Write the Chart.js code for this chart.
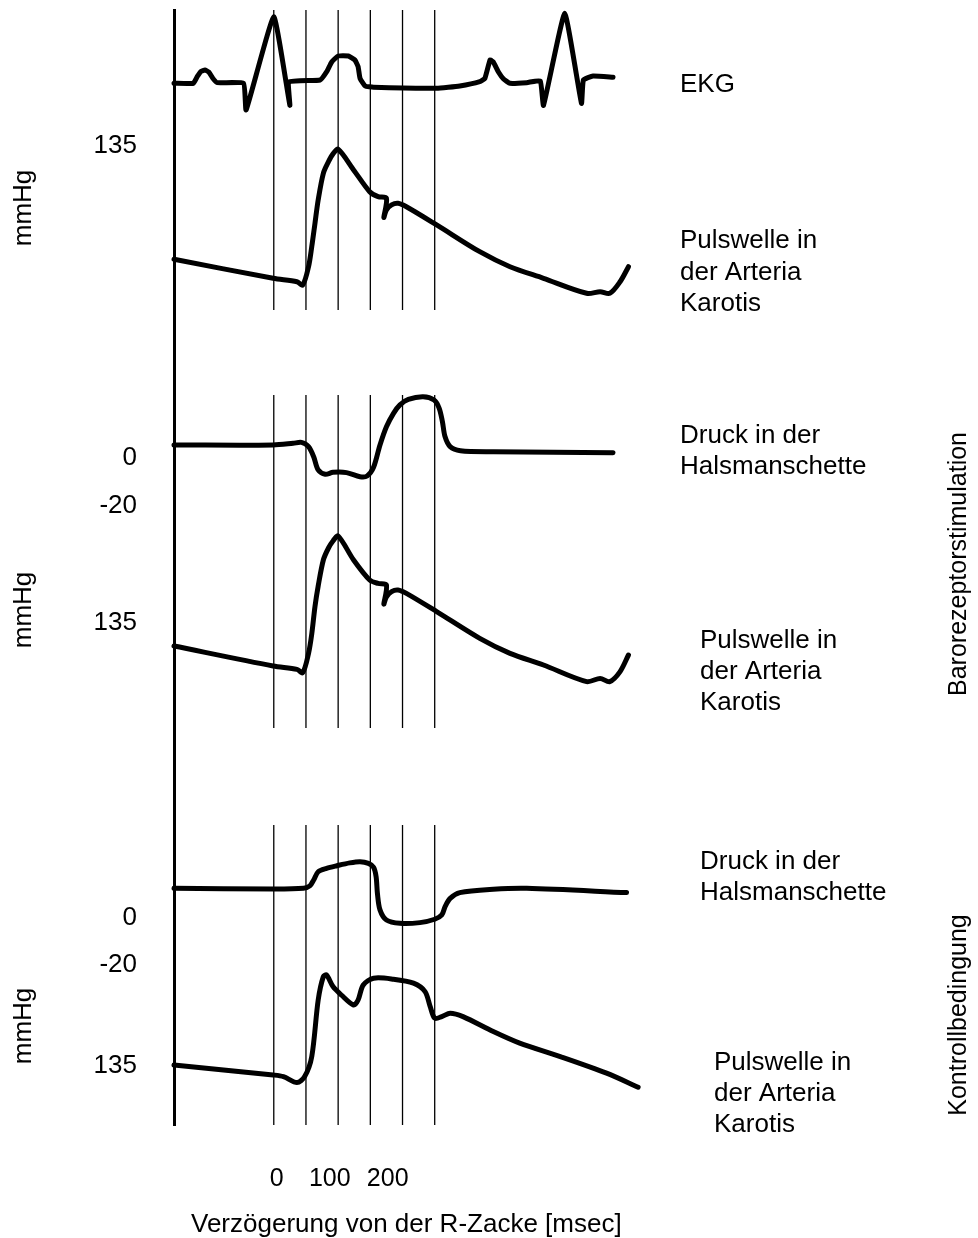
<!DOCTYPE html>
<html>
<head>
<meta charset="utf-8">
<script src="https://cdn.jsdelivr.net/npm/chart.js@4/dist/chart.umd.min.js"></script>
<style>
html,body{margin:0;padding:0;background:#fff;}
canvas{display:block;}
</style>
</head>
<body>
<canvas id="c" width="978" height="1238"></canvas>
<script>
// ---------------- DATA ----------------
// time axis: delay from the R wave in msec
const xTickLabels = ['0', '100', '200'];
const xTitle = 'Verzögerung von der R-Zacke [msec]';
const gridTimes = [0, 50, 100, 150, 200, 250];

// EKG (mV, schematic)
const ekgTime = [-155, -125, -119, -113, -107, -101, -95, -88, -47, -43, 0, 25, 24, 72, 82, 90, 100, 116, 126, 131, 134, 142, 155, 253, 289, 320, 328, 336, 341, 349, 357, 367, 393, 414, 419, 452, 478, 481, 496, 527];
const ekgMv   = [0, 0, 0.1, 0.18, 0.2, 0.17, 0.08, 0.01, 0, -0.4, 1.0, -0.33, 0.02, 0.05, 0.17, 0.32, 0.41, 0.41, 0.35, 0.25, 0.075, -0.04, -0.06, -0.075, -0.04, 0.024, 0.075, 0.35, 0.32, 0.17, 0.065, 0, 0.01, 0.035, -0.33, 1.05, -0.3, 0.05, 0.11, 0.09];

// Pulse wave, carotid artery (mmHg) - top panel
const pulse1Time = [-155, -1, 36, 45, 54, 59, 64, 69, 77, 85, 92, 100, 124, 149, 162, 175, 171, 175, 183, 193, 206, 253, 320, 367, 419, 486, 507, 522, 538, 551];
const pulse1Mmhg = [80, 70.5, 68.8, 67.2, 76.3, 86.3, 98, 109.7, 123, 128.8, 132.7, 135, 124.7, 113.8, 111.3, 110.5, 101, 104.7, 107.2, 108, 106.3, 97.2, 83.8, 76.3, 70.5, 63, 63.8, 63, 68.8, 76.3];

// Cuff pressure during baroreceptor stimulation (mmHg)
const cuffStimTime = [-155, -1, 30, 43, 54, 62, 69, 80, 92, 113, 134, 145, 155, 165, 175, 186, 196, 209, 232, 249, 257, 262, 266, 274, 290, 341, 527];
const cuffStimMmhg = [0, 0, 0.7, 1.1, -0.7, -4.9, -10.4, -12.2, -11.4, -11.5, -13.2, -12.9, -9.3, 0, 7.6, 13.2, 16.7, 19, 20.1, 18.75, 15.3, 9.7, 3.5, -0.7, -2.4, -2.8, -3.2];

// Pulse wave during baroreceptor stimulation (mmHg)
const pulse2Time = [-155, -1, 36, 45, 54, 59, 64, 69, 77, 85, 92, 100, 124, 149, 162, 175, 171, 175, 183, 193, 206, 253, 320, 367, 419, 486, 507, 522, 538, 551];
const pulse2Mmhg = [80, 70, 68.3, 66.7, 76.3, 86, 99.7, 110, 123, 129, 132.5, 135, 123, 113, 111.3, 110.5, 101, 104.5, 107.2, 108, 106.3, 97.2, 83.8, 76.3, 70.5, 62.2, 63.8, 62.2, 67.2, 75.5];

// Cuff pressure, control condition (mmHg)
const cuffCtrlTime = [-155, -1, 46, 56, 62, 69, 82, 98, 118, 134, 147, 155, 159, 161, 165, 175, 196, 227, 250, 261, 266, 274, 289, 341, 393, 548];
const cuffCtrlMmhg = [0, -0.3, 0, 1, 3.5, 6.9, 8.3, 9.4, 10.6, 11.1, 10.4, 8.75, 4.8, -2.1, -9, -13.2, -14.6, -14.3, -12.9, -11.1, -7.7, -4.2, -1.8, -0.4, 0, -1.8];

// Pulse wave, control condition (mmHg)
const pulse3Time = [-155, -1, 15, 36, 48, 59, 69, 77, 82, 92, 105, 124, 131, 139, 155, 186, 217, 235, 243, 250, 261, 274, 294, 341, 382, 445, 517, 566];
const pulse3Mmhg = [80, 75, 74.2, 71.2, 74.2, 84.2, 112.5, 124.2, 125, 119.2, 115, 110, 112.5, 120, 123.4, 122.9, 120.9, 116.7, 109.2, 103.4, 104.2, 105.9, 104.2, 96.7, 90.9, 84.2, 75.9, 68.9];

// Text
const leftNumbers = ['135', '0', '-20', '135', '0', '-20', '135'];
const unitLabel = 'mmHg';
const traceLabels = [
  ['EKG'],
  ['Pulswelle in', 'der Arteria', 'Karotis'],
  ['Druck in der', 'Halsmanschette'],
  ['Pulswelle in', 'der Arteria', 'Karotis'],
  ['Druck in der', 'Halsmanschette'],
  ['Pulswelle in', 'der Arteria', 'Karotis']
];
const conditionLabels = ['Barorezeptorstimulation', 'Kontrollbedingung'];

// ---------------- LAYOUT / STYLE ----------------
const FONT = '"Liberation Sans", Arial, Helvetica, sans-serif';
const AREA_TOP = 10, AREA_BOTTOM = 1125;
// each trace has its own hidden value axis; anchor two values to their vertical place
function fit(v1, p1, v2, p2) {
  const k = (p1 - p2) / (v2 - v1);
  return { min: v1 - (AREA_BOTTOM - p1) / k, max: v1 + (p1 - AREA_TOP) / k };
}
const axisFits = {
  yEkg:   fit(0, 83.3, 1, 16.7),
  yP1:    fit(135, 149.3, 80, 259.3),
  yC2:    fit(0, 445, 20, 397),
  yP2:    fit(135, 536, 80, 646),
  yC3:    fit(0, 888.3, 10, 864.3),
  yP3:    fit(80, 1065, 130, 965)
};
const gridSegments = [[10, 310], [395, 728], [825, 1125]];
const xTickAt = [4.5, 87, 177]; // where the printed labels 0/100/200 sit
const leftNumberY = [153, 465, 513, 630, 925, 972, 1073];
const unitCenters = [208, 610, 1026];
const labelPos = [
  { x: 680, y: 92, lh: 31.5 },
  { x: 680, y: 248, lh: 31.5 },
  { x: 680, y: 443, lh: 31 },
  { x: 700, y: 648, lh: 31 },
  { x: 700, y: 869, lh: 31 },
  { x: 714, y: 1070, lh: 31 }
];
const conditionCenters = [564, 1015];
const titlePos = { x: 191, y: 1232 };

const zip = (xs, ys) => xs.map((x, i) => ({ x: x, y: ys[i] }));
const trace = (data, axis, tension) => ({
  data: data, yAxisID: axis, borderColor: '#000', borderWidth: 5,
  pointRadius: 0, fill: false, tension: tension,
  borderCapStyle: 'round', borderJoinStyle: 'round', clip: false
});

const hiddenAxis = (id) => ({ type: 'linear', display: false, min: axisFits[id].min, max: axisFits[id].max });

const overlay = {
  id: 'overlay',
  beforeDatasetsDraw(chart) {
    const ctx = chart.ctx, xs = chart.scales.x;
    ctx.save();
    ctx.strokeStyle = '#000';
    ctx.lineWidth = 1.3;
    for (const [y0, y1] of gridSegments) {
      for (const t of gridTimes) {
        const px = xs.getPixelForValue(t);
        ctx.beginPath(); ctx.moveTo(px, y0); ctx.lineTo(px, y1); ctx.stroke();
      }
    }
    ctx.restore();
  },
  afterDraw(chart) {
    const ctx = chart.ctx;
    ctx.save();
    ctx.fillStyle = '#000';
    ctx.font = '26px ' + FONT;
    ctx.textBaseline = 'alphabetic';
    // left numbers
    ctx.textAlign = 'right';
    leftNumbers.forEach((t, i) => ctx.fillText(t, 137, leftNumberY[i]));
    // trace labels
    ctx.textAlign = 'left';
    traceLabels.forEach((lines, i) => {
      const p = labelPos[i];
      lines.forEach((l, j) => ctx.fillText(l, p.x, p.y + j * p.lh));
    });
    // x-axis title (printed slightly right of the axis start)
    ctx.fillText(xTitle, titlePos.x, titlePos.y);
    // rotated unit labels
    ctx.textAlign = 'center';
    unitCenters.forEach(cy => {
      ctx.save(); ctx.translate(31, cy); ctx.rotate(-Math.PI / 2);
      ctx.fillText(unitLabel, 0, 0); ctx.restore();
    });
    // rotated condition labels
    ctx.font = '25px ' + FONT;
    conditionLabels.forEach((t, i) => {
      ctx.save(); ctx.translate(966, conditionCenters[i]); ctx.rotate(-Math.PI / 2);
      ctx.fillText(t, 0, 0); ctx.restore();
    });
    ctx.restore();
  }
};

new Chart(document.getElementById('c'), {
  type: 'line',
  data: {
    datasets: [
      trace(zip(ekgTime, ekgMv), 'yEkg', 0.12),
      trace(zip(pulse1Time, pulse1Mmhg), 'yP1', 0.3),
      trace(zip(cuffStimTime, cuffStimMmhg), 'yC2', 0.3),
      trace(zip(pulse2Time, pulse2Mmhg), 'yP2', 0.3),
      trace(zip(cuffCtrlTime, cuffCtrlMmhg), 'yC3', 0.3),
      trace(zip(pulse3Time, pulse3Mmhg), 'yP3', 0.3)
    ]
  },
  options: {
    responsive: false,
    animation: false,
    devicePixelRatio: 1,
    layout: { padding: { left: 174, top: 10, right: 0, bottom: 0 } },
    plugins: { legend: { display: false }, tooltip: { enabled: false } },
    scales: {
      x: {
        type: 'linear', position: 'bottom', min: -155, max: 1094,
        grid: { display: false, drawTicks: false }, border: { display: false },
        afterBuildTicks: s => { s.ticks = xTickAt.map(v => ({ value: v })); },
        ticks: { autoSkip: false, maxRotation: 0, padding: 39, color: '#000',
                 font: { family: FONT, size: 25 }, callback: (v, i) => xTickLabels[i] },
        title: { display: false, text: xTitle },
        afterFit: s => { s.height = 1238 - AREA_BOTTOM; }
      },
      frame: {
        type: 'linear', position: 'left', min: 0, max: 1, display: true,
        grid: { display: false, drawTicks: false }, ticks: { display: false },
        border: { display: true, width: 3, color: '#000' },
        afterFit: s => { s.width = 0; }
      },
      yEkg: hiddenAxis('yEkg'),
      yP1: hiddenAxis('yP1'),
      yC2: hiddenAxis('yC2'),
      yP2: hiddenAxis('yP2'),
      yC3: hiddenAxis('yC3'),
      yP3: hiddenAxis('yP3')
    }
  },
  plugins: [overlay]
});
</script>
</body>
</html>
